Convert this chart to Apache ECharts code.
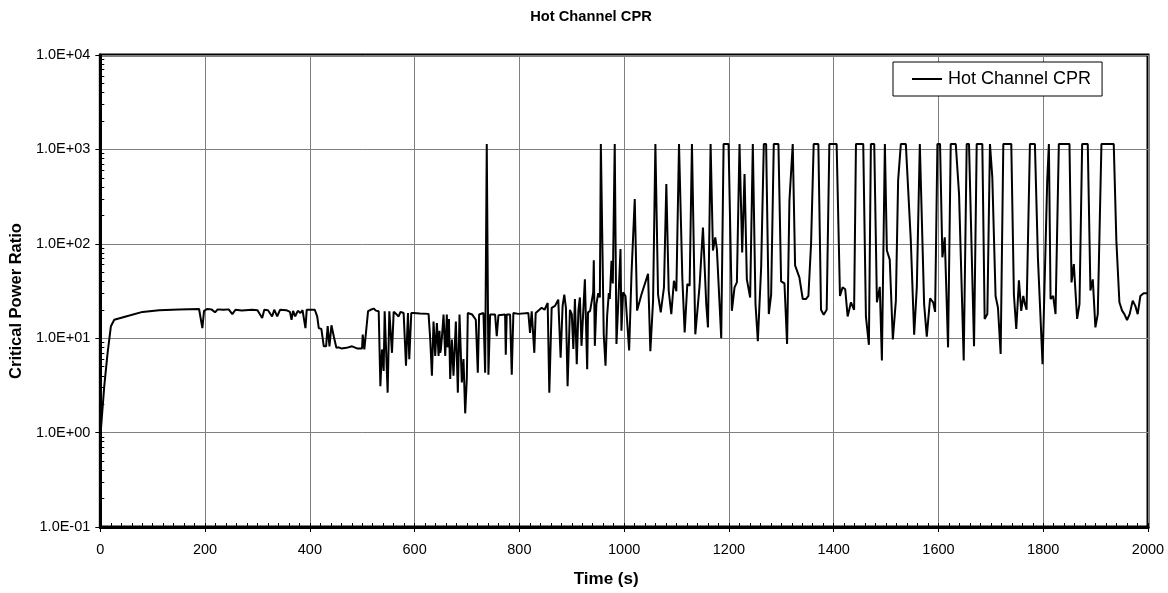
<!DOCTYPE html>
<html>
<head>
<meta charset="utf-8">
<script src="https://cdn.jsdelivr.net/npm/echarts@6/dist/echarts.min.js"></script>
<style>
html,body{margin:0;padding:0;background:#fff;}
#chart{width:1168px;height:593px;}
</style>
</head>
<body>
<div id="chart"></div>
<script>
// ---- data ----
const chartTitle = 'Hot Channel CPR';
const seriesName = 'Hot Channel CPR';
const xAxisTitle = 'Time (s)';
const yAxisTitle = 'Critical Power Ratio';
const xTicks = [0, 200, 400, 600, 800, 1000, 1200, 1400, 1600, 1800, 2000];
const yTicks = [0.1, 1, 10, 100, 1000, 10000];

const times = [
  0, 7.5, 13.9, 20.2, 26.6, 48.8, 80.5, 112.3, 150, 188.5, 192, 194.8, 198, 204.3, 212, 219, 224, 235, 245, 252,
  258, 270, 290, 300, 309, 313, 320, 328, 332, 337.7, 343, 355, 362, 365, 368, 372, 377, 382, 386, 391.6,
  394, 409.4, 414, 417, 422, 426.6, 431, 434, 437.4, 441.2, 445.6, 450.7, 455, 460, 470, 480.6, 490, 499.6, 500.9, 504,
  506, 511.1, 516, 521.9, 526, 531.4, 534.6, 537.7, 540.9, 542.8, 545, 548.5, 551.7, 554, 556.8, 560, 565, 569.5, 573, 579,
  583.5, 587.3, 589.8, 593.6, 598, 610, 626.6, 629.8, 633, 636.1, 639.3, 642.5, 645.7, 647.5, 648.8, 650.1, 652.5, 655.2, 658.4, 661.5,
  663, 665.5, 667.9, 671.1, 674.2, 678.7, 682.5, 685.7, 690.1, 693.3, 696.5, 699.6, 701.5, 710, 716.8, 720.6, 723.1, 731.4, 734.6, 737.7,
  740.9, 744.1, 753.6, 756.8, 760, 772.7, 774, 775.8, 782.2, 785.4, 788.5, 798, 817.1, 820.3, 823.5, 828.5, 831.1, 842.5, 848, 854,
  857.1, 861.6, 868, 874.2, 878.7, 882.5, 885.7, 888.8, 892, 896.5, 900, 903, 906, 909.5, 912.7, 915.5, 918.6, 925, 929.4, 931,
  935, 940.9, 942, 944, 947, 950.5, 953.6, 955.5, 958.5, 961, 964.4, 967.5, 970.7, 972.6, 975.8, 978.3, 982, 985.3, 988.5, 993,
  994.8, 998, 1002.5, 1004.4, 1009.5, 1014, 1020.2, 1024.7, 1033, 1045.6, 1050, 1055.2, 1059.6, 1064.7, 1069.8, 1076, 1080.5, 1085, 1090, 1095,
  1099.6, 1104.7, 1111, 1115.5, 1120.6, 1125, 1129.4, 1135.8, 1144, 1150.4, 1156.7, 1160, 1165, 1169.5, 1173.9, 1177, 1185.3, 1189.8, 1199.3, 1205.6,
  1210.7, 1215.2, 1220.2, 1225.3, 1229.8, 1234.2, 1240.5, 1245.6, 1250.7, 1255.2, 1261.5, 1266.6, 1271, 1276.1, 1280.6, 1285.6, 1294.5, 1299.6, 1306, 1311,
  1315.5, 1321.8, 1326.3, 1334.5, 1340.9, 1347, 1351.7, 1356.8, 1361.8, 1370.7, 1375.8, 1380.9, 1386.6, 1391.7, 1405.6, 1412, 1417, 1422, 1426.6, 1433,
  1439, 1442.5, 1456.4, 1461.5, 1467.2, 1471, 1477.4, 1482.5, 1488, 1492, 1497.7, 1501.5, 1507, 1512.9, 1518.7, 1523, 1528.2, 1537.7, 1547.2, 1553.6,
  1558.7, 1564.4, 1567.5, 1572.6, 1577.7, 1584, 1589.8, 1593.6, 1598, 1603, 1607.5, 1612, 1614.5, 1618.3, 1623.4, 1633, 1639.3, 1648.2, 1653.9, 1658.3,
  1667.9, 1673, 1683.7, 1688.2, 1693.3, 1698.3, 1702.8, 1709, 1713.6, 1718.7, 1723.8, 1739, 1744, 1748.5, 1753.6, 1758, 1761.9, 1765, 1768.2, 1774.6,
  1784.1, 1789.8, 1798.7, 1807.6, 1810.8, 1814, 1818.9, 1823.5, 1829.8, 1850.1, 1854, 1858.4, 1864.7, 1869.2, 1874.3, 1885, 1890.1, 1894.6, 1899.6, 1904.1,
  1911.1, 1934.6, 1939.6, 1945.4, 1950.5, 1954.9, 1960, 1965, 1970.8, 1975.8, 1980.3, 1985.4, 1991.7, 2000
];
const cpr = [
  0.9, 3.1, 7.0, 13.4, 15.7, 17, 19, 19.8, 20.1, 20.4, 20, 12.8, 19.5, 20.4, 20.2, 18.8, 20.2, 20.0, 20.2, 18,
  20, 19.6, 20, 19.8, 16.4, 20, 19.8, 17, 20, 17, 20, 19.8, 19, 15.7, 19.5, 17, 19.5, 18.5, 19.8, 12.8,
  20, 20, 17, 12.8, 12.5, 8.2, 8.2, 13.4, 8.2, 13.7, 10.5, 7.9, 8.0, 7.8, 7.9, 8.2, 7.8, 7.8, 10.9, 7.6,
  7.6, 19.3, 20, 20.6, 19.6, 19.3, 3.1, 7.6, 4.5, 19.3, 19, 2.65, 19.3, 19.3, 7.0, 19, 18, 17, 19, 18.5,
  5.1, 18.5, 6.0, 18.5, 18.5, 18.3, 18.1, 9.7, 4.0, 15, 6.5, 14.5, 6.5, 12, 7, 7.6, 11, 17.8, 6.5, 17.8,
  8, 16, 3.7, 9.7, 4.0, 15, 2.65, 17.8, 3.4, 6.0, 1.6, 3.7, 18.5, 17.8, 15.7, 4.3, 17.8, 18.5, 4.3, 1140,
  4.1, 17.8, 17.8, 10.5, 17.5, 17.8, 6.7, 17.8, 17.8, 4.1, 18.5, 18.1, 18.5, 11.4, 19.3, 7.0, 18.5, 21, 20, 23.6,
  2.65, 21, 22, 25.6, 6.2, 22, 29, 21, 3.1, 20, 18, 7.7, 26, 5.3, 20, 27, 8.3, 42, 4.7, 18.8,
  19.5, 30.6, 67, 8.3, 23, 30, 27, 1140, 1140, 11, 5.1, 17.3, 30, 26, 66, 38, 1140, 8.7, 22, 88,
  12, 30.6, 28, 27, 7.4, 48, 298, 19.6, 29, 48, 7.3, 25, 1140, 29, 18.8, 34.6, 430, 32, 18, 40.6,
  31.5, 1140, 44, 11.5, 37.5, 36, 1140, 11, 36, 149, 23, 13, 1140, 85, 117, 88, 10, 1140, 1140, 19.5,
  34.6, 39, 1140, 81, 548, 42, 27, 1140, 23, 9.3, 56, 1140, 1140, 18, 29, 1140, 1140, 40, 38, 8.7,
  286, 1140, 59, 44, 26, 26, 28, 100, 1140, 1140, 20, 17.7, 20, 1140, 1140, 28, 34.6, 33, 17, 24,
  20, 1140, 1140, 17, 8.5, 1140, 1140, 24, 35, 5.8, 1140, 85, 68, 9.7, 25, 470, 1140, 1140, 108, 10.9,
  35, 1140, 1140, 23, 10.4, 26.5, 24, 19, 1140, 1140, 72, 117, 117, 8.0, 1140, 1140, 336, 5.8, 1140, 1140,
  8.2, 1140, 1140, 16, 18, 1140, 505, 28, 21, 6.8, 1140, 1140, 29, 12.5, 41, 19.5, 28, 23, 20, 1140,
  1140, 72, 5.3, 466, 1140, 26, 28, 18, 1140, 1140, 39, 61, 16, 23, 1140, 1140, 32, 42, 13, 18,
  1140, 1140, 108, 24, 19.6, 18, 15.6, 18, 25, 22, 18, 28, 30, 30
];

// ---- chart ----
const seriesData = times.map((t, i) => [t, cpr[i]]);
const yMinorTicks = [];
for (let d = -1; d <= 3; d++) {
  for (let k = 2; k <= 9; k++) yMinorTicks.push(+(k * Math.pow(10, d)).toPrecision(3));
}
const FONT = '"Liberation Sans", Arial, sans-serif';

function sciLabel(v) {
  const e = Math.round(Math.log10(v));
  return '1.0E' + (e < 0 ? '-' : '+') + String(Math.abs(e)).padStart(2, '0');
}

const chart = echarts.init(document.getElementById('chart'), null, { renderer: 'canvas' });
chart.setOption({
  animation: false,
  backgroundColor: '#fff',
  textStyle: { fontFamily: FONT, color: '#000' },
  title: {
    text: chartTitle,
    left: 586, top: 4, textAlign: 'center',
    textStyle: { fontFamily: FONT, fontSize: 14.7, fontWeight: 'bold', color: '#000' }
  },
  legend: {
    data: [seriesName],
    left: 893, top: 62,
    padding: [8, 11, 8, 19],
    icon: 'rect',
    itemWidth: 30, itemHeight: 2, itemGap: 5,
    itemStyle: { color: '#000' },
    backgroundColor: '#fff', borderColor: '#000', borderWidth: 1,
    textStyle: { fontFamily: FONT, fontSize: 18, color: '#000', padding: [0, 0, 0, 1] }
  },
  grid: {
    left: 98, right: 20, top: 55, bottom: 66,
    show: true, borderColor: '#000', borderWidth: 3, backgroundColor: 'transparent'
  },
  xAxis: [{
    type: 'value', min: xTicks[0], max: xTicks[xTicks.length - 1], interval: 200,
    name: xAxisTitle, nameLocation: 'middle', nameGap: 44,
    nameTextStyle: { fontFamily: FONT, fontSize: 17, fontWeight: 'bold', color: '#000', padding: [0, 36, 0, 0] },
    axisLine: { show: true, lineStyle: { color: '#000', width: 3 } },
    axisTick: { show: true, length: 5, lineStyle: { color: '#000', width: 1 } },
    axisLabel: { fontFamily: FONT, fontSize: 14.5, color: '#000', margin: 15, formatter: v => String(v) },
    splitLine: { show: true, lineStyle: { color: '#808080', width: 1 } }
  }, {
    type: 'value', min: 0, max: 2000, interval: 20, position: 'bottom',
    axisLine: { show: false }, axisLabel: { show: false }, splitLine: { show: false },
    axisTick: { show: true, inside: true, length: 4, lineStyle: { color: '#000', width: 1 } }
  }],
  yAxis: [{
    type: 'log', logBase: 10, min: yTicks[0], max: yTicks[yTicks.length - 1],
    name: yAxisTitle, nameLocation: 'middle', nameGap: 71, nameRotate: 90,
    nameTextStyle: { fontFamily: FONT, fontSize: 16.5, fontWeight: 'bold', color: '#000', padding: [0, 20, 0, 0] },
    axisLine: { show: true, lineStyle: { color: '#000', width: 3 } },
    axisTick: { show: true, length: 5, lineStyle: { color: '#000', width: 1 } },
    axisLabel: { fontFamily: FONT, fontSize: 14.5, color: '#000', margin: 10, formatter: sciLabel },
    splitLine: { show: true, lineStyle: { color: '#808080', width: 1 } }
  }, {
    type: 'log', logBase: 10, min: yTicks[0], max: yTicks[yTicks.length - 1], position: 'left',
    axisLine: { show: false }, axisLabel: { show: false }, splitLine: { show: false },
    axisTick: { show: true, inside: true, length: 4, customValues: yMinorTicks, lineStyle: { color: '#000', width: 1 } }
  }],
  series: [{
    name: seriesName,
    type: 'line',
    xAxisIndex: 0, yAxisIndex: 0,
    data: seriesData,
    symbol: 'none', showSymbol: false,
    lineStyle: { color: '#000', width: 2 },
    itemStyle: { color: '#000' },
    sampling: null
  }]
});
</script>
</body>
</html>
